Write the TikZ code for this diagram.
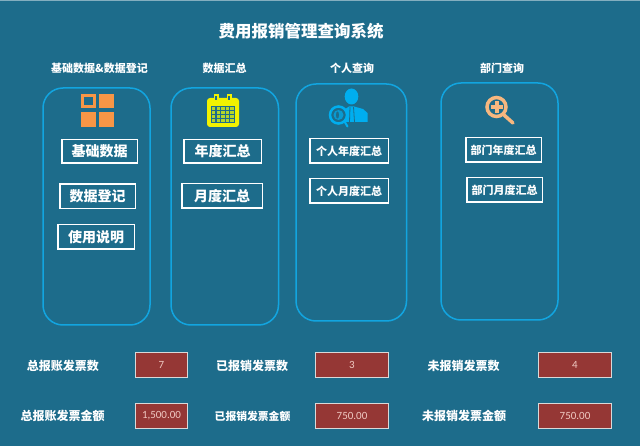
\documentclass[tikz,border=0pt]{standalone}
\usepackage{fontspec}
\setmainfont{Noto Sans CJK SC}
\newfontfamily\numfont{Carlito}
\usepackage{color}
\definecolor{pagebg}{HTML}{1D6C8B}
\definecolor{panelline}{HTML}{12A5E0}
\definecolor{valuered}{HTML}{953735}
\definecolor{valuetext}{HTML}{EFC9C2}
\definecolor{gridorange}{HTML}{F79646}
\definecolor{calyellow}{HTML}{F2F200}
\definecolor{calcell}{HTML}{B4D62A}
\definecolor{manblue}{HTML}{00AEEF}
\definecolor{lensorange}{HTML}{F6B77F}
\tikzset{
	panel/.style={draw=panelline, line width=1.5pt, rounded corners=20pt},
	headtext/.style={text=white, font=\fontsize{11}{11}\selectfont\bfseries, inner sep=0pt},
	btn/.style={draw=white, line width=1.5pt, text=white, inner sep=0pt, font=\fontsize{14}{14}\selectfont\bfseries},
	smallbtn/.style={btn, font=\fontsize{11}{11}\selectfont\bfseries},
	sumtext/.style={text=white, inner sep=0pt, font=\fontsize{12}{12}\selectfont\bfseries},
	valuebox/.style={draw=white!85!black, line width=1.2pt, fill=valuered, text=valuetext, inner sep=0pt, minimum height=25pt, font=\fontsize{11}{11}\selectfont\numfont},
}

\begin{document}
\begin{tikzpicture}[x=1pt, y=-1pt]
	\useasboundingbox (0, 0) rectangle (640, 446);
	\fill[pagebg] (0, 0) rectangle (640, 446);
	\draw[white!45!pagebg, line width=1pt] (0, 0.5)--(640, 0.5);

	\node[text=white, inner sep=0pt, font=\fontsize{16.5}{16.5}\selectfont\bfseries] (title) at (301, 31) {费用报销管理查询系统};

	\node[headtext] (head_base) at (99.5, 68) {基础数据\&数据登记};
	\node[headtext] (head_sum) at (224.5, 68) {数据汇总};
	\node[headtext] (head_person) at (352, 68) {个人查询};
	\node[headtext] (head_dept) at (502, 68) {部门查询};

	\draw[panel] (43, 88) rectangle (150, 325);
	\draw[panel] (171, 88) rectangle (278.5, 325);
	\draw[panel] (296, 84) rectangle (406.5, 321);
	\draw[panel] (441, 83) rectangle (558, 320);

	% grid icon
	\draw[gridorange, line width=2.5pt] (82.5, 95.5) rectangle (94.5, 106.5);
	\fill[gridorange] (99, 94) rectangle (114, 108);
	\fill[gridorange] (81, 112) rectangle (96, 127);
	\fill[gridorange] (99, 112) rectangle (114, 127);

	% calendar icon
	\fill[calyellow, rounded corners=3pt] (207, 98) rectangle (239, 127);
	\fill[pagebg] (211, 106) rectangle (235, 123);
	\foreach \col in {0,...,4}
		\foreach \row in {0,...,3}
			\fill[calcell] (212+4.6*\col, 107+3.9*\row) rectangle ++(3.4, 2.9);
	\draw[calyellow, line width=1.5pt, fill=pagebg] (214.5, 95) rectangle (218, 101);
	\draw[calyellow, line width=1.5pt, fill=pagebg] (227.5, 95) rectangle (231, 101);

	% person icon
	\fill[manblue] (351.5, 96.5) ellipse [x radius=6.8, y radius=8];
	\fill[manblue] (344, 122) -- (344, 110) -- (349, 106.5) -- (354, 106.5) -- (363, 109) -- (367.5, 113) -- (367.5, 122) -- cycle;
	\draw[pagebg, line width=0.8pt] (350, 107)--(349.5, 122);
	\draw[pagebg, line width=0.8pt] (353.5, 107)--(354.5, 122);
	\draw[manblue, line width=2.5pt, fill=pagebg] (338.5, 115) circle [radius=8.5];
	\fill[manblue!70!pagebg] (338.5, 115) circle [radius=5];
	\fill[pagebg] (337.5, 115) ellipse [x radius=1.5, y radius=3.5];
	\draw[manblue, line width=2pt, line cap=round] (344.5, 121.5)--(347.5, 126.5);

	% lens icon
	\draw[lensorange, line width=3.5pt, line cap=round] (504, 115)--(513, 123);
	\draw[lensorange, line width=3.5pt, fill=pagebg] (496.5, 107) circle [radius=9.5];
	\draw[lensorange, line width=4pt] (490.5, 107)--(502.5, 107);
	\draw[lensorange, line width=4pt] (496.5, 101)--(496.5, 113);

	\node[btn, minimum width=75.5pt, minimum height=23.5pt] (btn_base) at (99.5, 151.5) {基础数据};
	\node[btn, minimum width=75.5pt, minimum height=24.5pt] (btn_entry) at (97.5, 196.5) {数据登记};
	\node[btn, minimum width=76.5pt, minimum height=24.5pt] (btn_guide) at (96, 237) {使用说明};
	\node[btn, minimum width=77.5pt, minimum height=23.5pt] (btn_year) at (222.5, 151.5) {年度汇总};
	\node[btn, minimum width=80.5pt, minimum height=24.5pt] (btn_month) at (222, 196) {月度汇总};
	\node[smallbtn, minimum width=78.5pt, minimum height=24.5pt] (btn_person_year) at (349, 151) {个人年度汇总};
	\node[smallbtn, minimum width=78.5pt, minimum height=24.5pt] (btn_person_month) at (349, 191) {个人月度汇总};
	\node[smallbtn, minimum width=75.5pt, minimum height=24.5pt] (btn_dept_year) at (503.5, 150) {部门年度汇总};
	\node[smallbtn, minimum width=75.5pt, minimum height=24.5pt] (btn_dept_month) at (504.5, 190) {部门月度汇总};

	\node[sumtext] (total_count) at (63, 366) {总报账发票数};
	\node[sumtext] (total_amount) at (62.5, 416) {总报账发票金额};
	\node[sumtext] (done_count) at (252, 366) {已报销发票数};
	\node[sumtext, font=\fontsize{10.8}{11}\selectfont\bfseries] (done_amount) at (252.5, 416) {已报销发票金额};
	\node[sumtext] (open_count) at (463.5, 366) {未报销发票数};
	\node[sumtext] (open_amount) at (464, 416) {未报销发票金额};

	\node[valuebox, minimum width=52pt] (total_count_val) at (161.5, 365) {7};
	\node[valuebox, minimum width=52pt] (total_amount_val) at (161.5, 416) {1,500.00};
	\node[valuebox, minimum width=73pt] (done_count_val) at (352, 365) {3};
	\node[valuebox, minimum width=73pt] (done_amount_val) at (352, 416) {750.00};
	\node[valuebox, minimum width=73pt] (open_count_val) at (575, 365) {4};
	\node[valuebox, minimum width=73pt] (open_amount_val) at (575, 416) {750.00};
\end{tikzpicture}
\end{document}
